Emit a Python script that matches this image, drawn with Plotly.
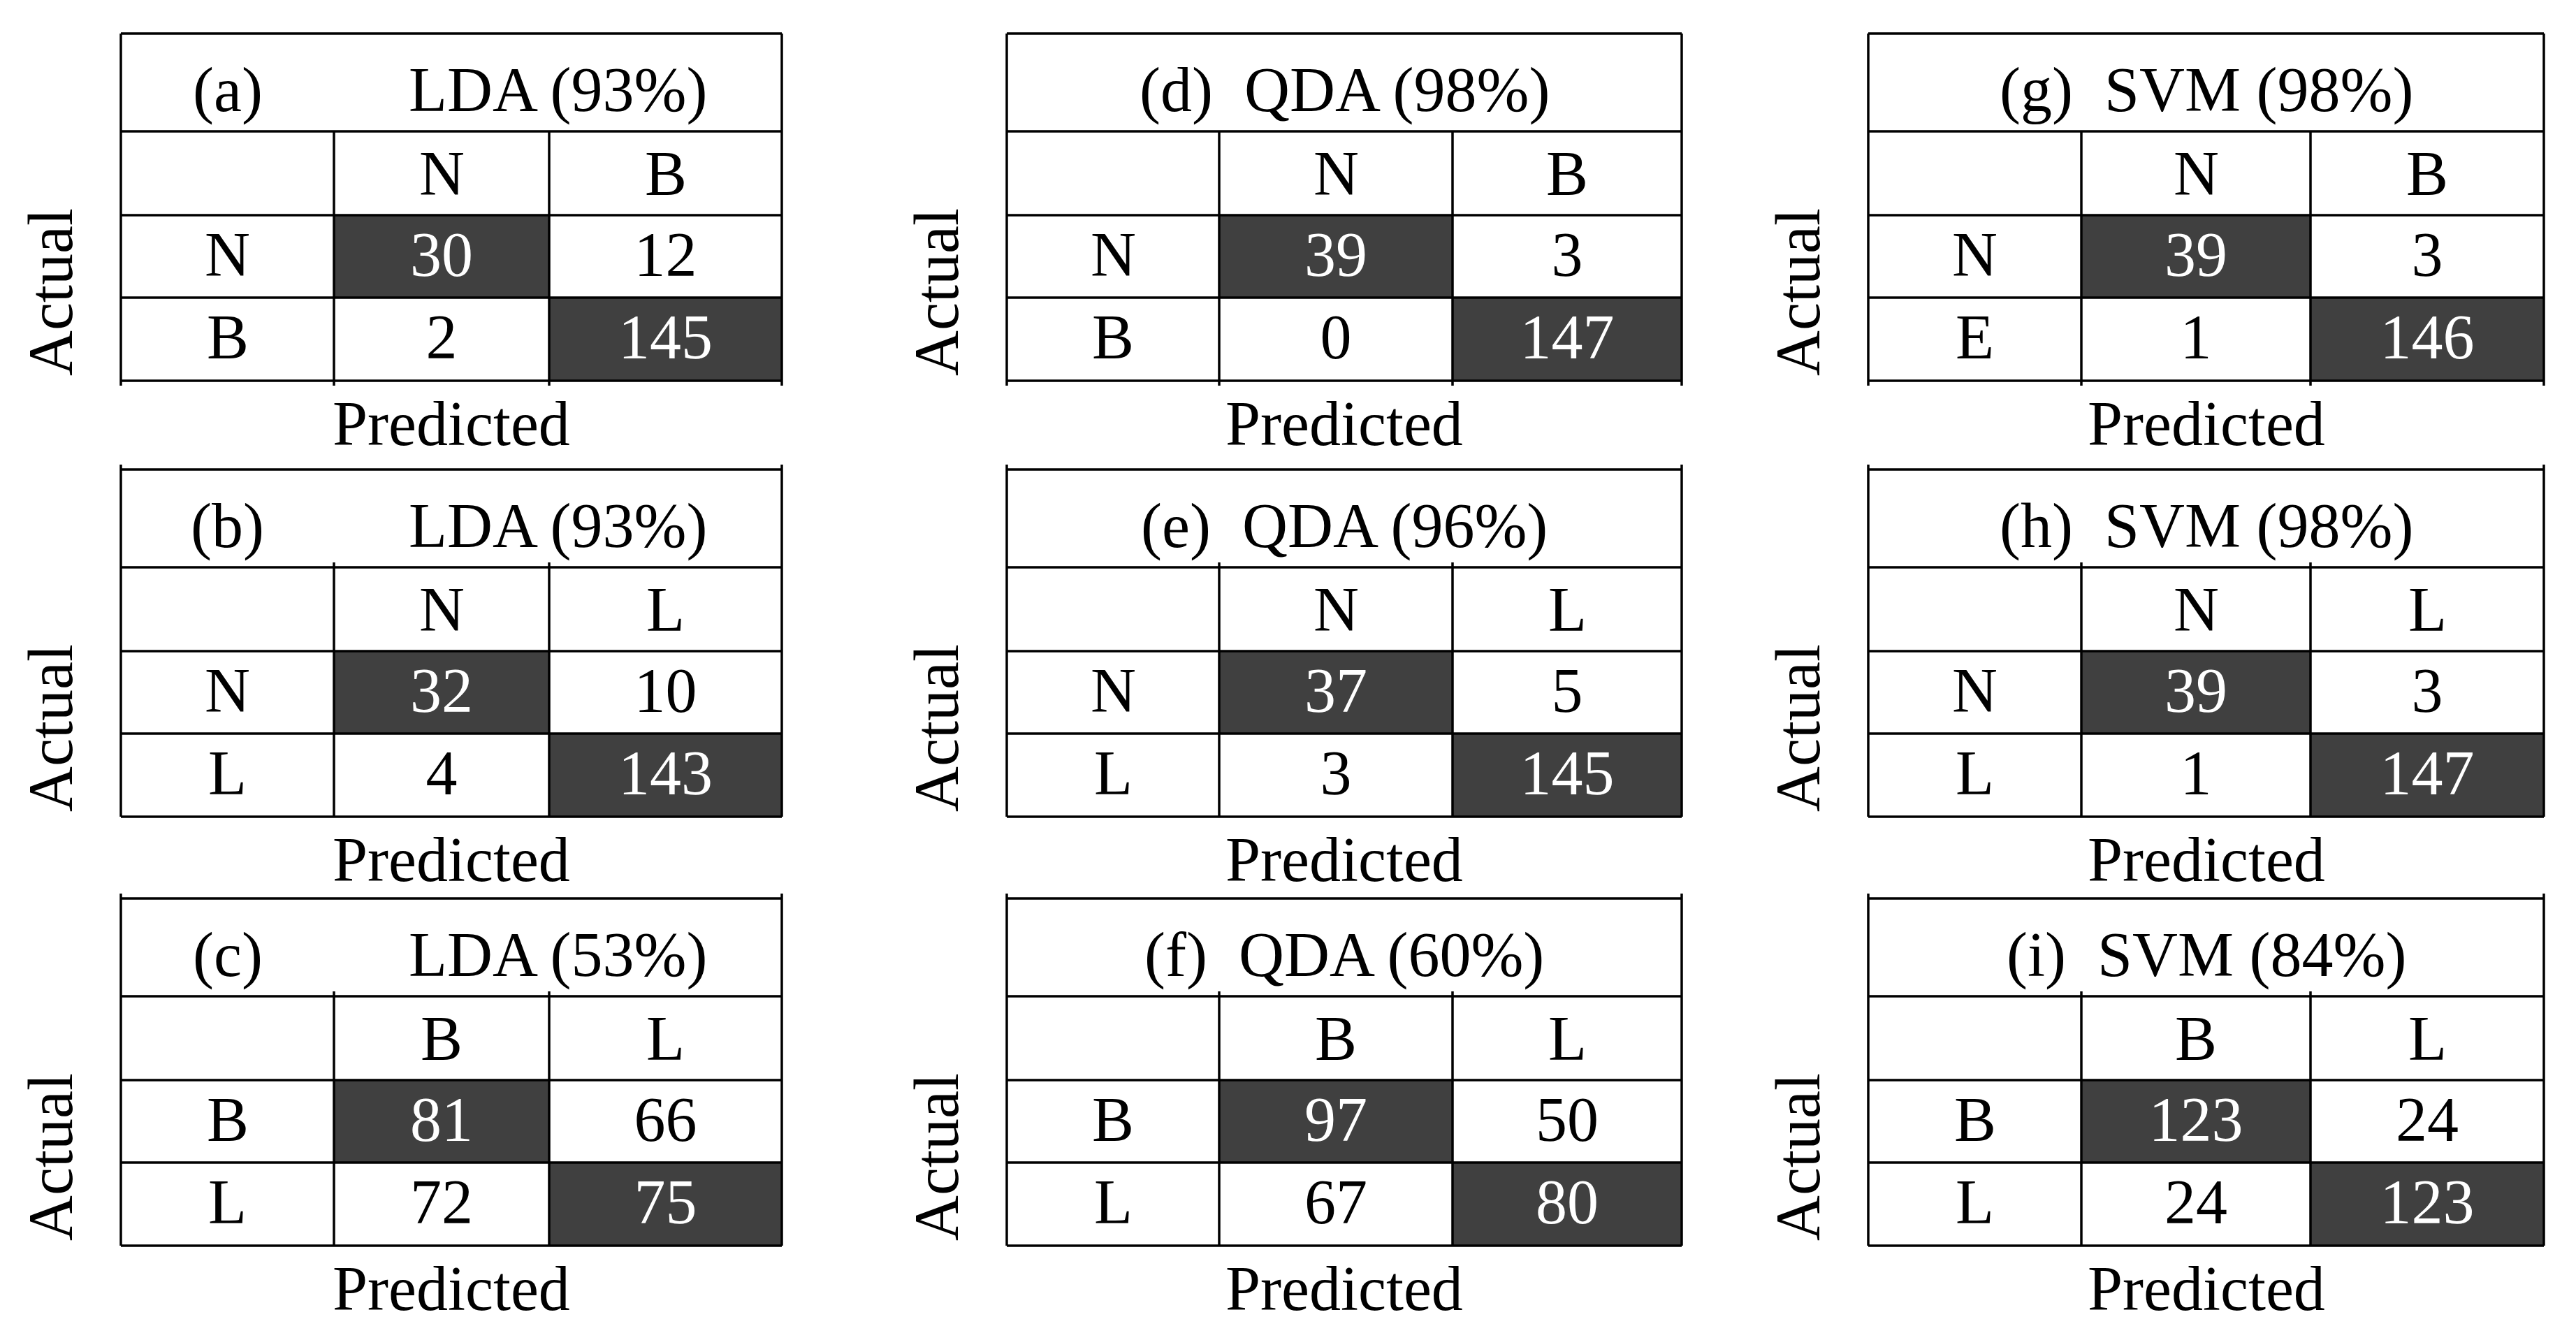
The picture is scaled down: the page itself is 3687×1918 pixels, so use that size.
import plotly.graph_objects as go

# panel data: (a)-(c) LDA, (d)-(f) QDA, (g)-(i) SVM
panel_labels = ["(a)", "(b)", "(c)", "(d)", "(e)", "(f)", "(g)", "(h)", "(i)"]
methods = ["LDA", "LDA", "LDA", "QDA", "QDA", "QDA", "SVM", "SVM", "SVM"]
accuracy = [93, 93, 53, 98, 96, 60, 98, 98, 84]
pred_classes = [["N", "B"], ["N", "L"], ["B", "L"],
                ["N", "B"], ["N", "L"], ["B", "L"],
                ["N", "B"], ["N", "L"], ["B", "L"]]
actual_classes = [["N", "B"], ["N", "L"], ["B", "L"],
                  ["N", "B"], ["N", "L"], ["B", "L"],
                  ["N", "E"], ["N", "L"], ["B", "L"]]
counts = [
    [[30, 12], [2, 145]],
    [[32, 10], [4, 143]],
    [[81, 66], [72, 75]],
    [[39, 3], [0, 147]],
    [[37, 5], [3, 145]],
    [[97, 50], [67, 80]],
    [[39, 3], [1, 146]],
    [[39, 3], [1, 147]],
    [[123, 24], [24, 123]],
]

# page layout (pixels)
W, H = 3687, 1918
TABLE_LEFT = [173, 1441, 2674]
TABLE_TOP = [48, 672, 1286]
COL_WIDTHS = [[305, 308, 333], [304, 334, 328], [305, 328, 334]]
ROW_HEIGHTS = [140, 120, 118, 119]
DARK = "#404040"
FONT = "Liberation Serif"
FS = 90
LW = 3.5
TICK = 7  # little overhangs left by the word-processor table borders

fig = go.Figure()
shapes = []
annotations = []


def label(x, y, text, angle=0):
    annotations.append(dict(x=x, y=y, xref="x", yref="y", text=text, showarrow=False,
                            xanchor="center", yanchor="middle", textangle=angle,
                            font=dict(family=FONT, size=FS, color="black")))


def seg(x0, y0, x1, y1):
    shapes.append(dict(type="line", xref="x", yref="y", x0=x0, x1=x1, y0=y0, y1=y1,
                       line=dict(color="black", width=LW)))


for k in range(9):
    gc, gr = divmod(k, 3)
    xs = [TABLE_LEFT[gc]]
    for w in COL_WIDTHS[gc]:
        xs.append(xs[-1] + w)
    ys = [TABLE_TOP[gr]]
    for h in ROW_HEIGHTS:
        ys.append(ys[-1] + h)

    # shaded diagonal cells
    for i in range(2):
        shapes.append(dict(type="rect", xref="x", yref="y", x0=xs[i + 1], x1=xs[i + 2],
                           y0=ys[i + 2], y1=ys[i + 3], fillcolor=DARK, line=dict(width=0),
                           layer="below"))
    # grid lines
    for y in ys:
        seg(xs[0], y, xs[-1], y)
    for j, x in enumerate(xs):
        outer = j in (0, len(xs) - 1)
        top = ys[0] if outer else ys[1]
        if gr > 0:
            top -= TICK
        bottom = ys[-1] + (TICK if gr == 0 else 0)
        seg(x, top, x, bottom)

    # cell values
    cx = [(xs[j + 1] + xs[j + 2]) / 2 for j in range(2)]
    cy = [(ys[i + 2] + ys[i + 3]) / 2 + 5 for i in range(2)]
    fig.add_trace(go.Scatter(
        x=[cx[j] for i in range(2) for j in range(2)],
        y=[cy[i] for i in range(2) for j in range(2)],
        text=[str(counts[k][i][j]) for i in range(2) for j in range(2)],
        mode="text",
        textfont=dict(family=FONT, size=FS,
                      color=["white" if i == j else "black" for i in range(2) for j in range(2)]),
        hoverinfo="skip",
    ))

    # title row
    title = f"{methods[k]} ({accuracy[k]}%)"
    ty = ys[0] + 81
    if gc == 0:
        label((xs[0] + xs[1]) / 2, ty, panel_labels[k])
        label((xs[1] + xs[3]) / 2, ty, title)
    else:
        label((xs[0] + xs[3]) / 2, ty, panel_labels[k] + "\u00a0\u00a0" + title)

    # class headers
    hy = (ys[1] + ys[2]) / 2
    for j in range(2):
        label((xs[j + 1] + xs[j + 2]) / 2, hy, pred_classes[k][j])
        label((xs[0] + xs[1]) / 2, (ys[j + 2] + ys[j + 3]) / 2 - 3, actual_classes[k][j])

    # axis titles
    label((xs[0] + xs[3]) / 2, ys[-1] + 61, "Predicted")
    label(xs[0] - 101, ys[0] + 370, "Actual", angle=-90)

fig.update_layout(
    width=W, height=H,
    margin=dict(l=0, r=0, t=0, b=0),
    paper_bgcolor="white", plot_bgcolor="white",
    showlegend=False,
    shapes=shapes,
    annotations=annotations,
    xaxis=dict(range=[0, W], visible=False, fixedrange=True),
    yaxis=dict(range=[H, 0], visible=False, fixedrange=True),
)

fig.write_html("out.html", config={"displayModeBar": False},
               post_script="document.body.style.margin='0';document.body.style.overflow='hidden';")
